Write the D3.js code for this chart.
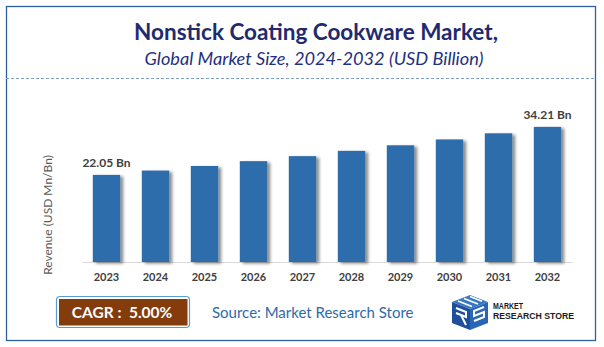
<!DOCTYPE html>
<html>
<head>
<meta charset="utf-8">
<script src="https://cdn.jsdelivr.net/npm/d3@7/dist/d3.min.js"></script>
<style>
  html, body { margin: 0; padding: 0; background: #fff; }
  svg { display: block; }
</style>
</head>
<body>
<svg id="chart" width="604" height="347"></svg>
<script>
// Market size by year (USD billion)
const years = ["2023", "2024", "2025", "2026", "2027", "2028", "2029", "2030", "2031", "2032"];
const revenue = [22.05, 23.15, 24.31, 25.53, 26.80, 28.14, 29.55, 31.03, 32.58, 34.21];
// Only the first and last bars carry a value label
const labelledYears = ["2023", "2032"];

const titleText = "Nonstick Coating Cookware Market,";
const subtitleText = "Global Market Size, 2024-2032 (USD Billion)";
const yAxisTitle = "Revenue (USD Mn/Bn)";
const cagrText = "CAGR :  5.00%";
const sourceText = "Source: Market Research Store";

const data = years.map((y, i) => ({ year: y, value: revenue[i] }));

const svg = d3.select("#chart");

// Bar drop shadow
const defs = svg.append("defs");
const shadow = defs.append("filter").attr("id", "barShadow")
  .attr("x", "-20%").attr("y", "-10%").attr("width", "160%").attr("height", "130%");
shadow.append("feDropShadow")
  .attr("dx", 3).attr("dy", 1.5).attr("stdDeviation", 1.6)
  .attr("flood-color", "#000").attr("flood-opacity", 0.45);

// Outer frame
svg.append("rect")
  .attr("x", 6.5).attr("y", 6.5).attr("width", 589).attr("height", 334)
  .attr("fill", "#fff").attr("stroke", "#2e5f9e").attr("stroke-width", 1.3);

// Titles
svg.append("text")
  .attr("x", 316).attr("y", 40).attr("text-anchor", "middle")
  .attr("font-family", "Lato, 'Open Sans', sans-serif").attr("font-weight", 700)
  .attr("font-size", 22.5).attr("fill", "#1f2b6e")
  .text(titleText);
svg.append("text")
  .attr("x", 314).attr("y", 65).attr("text-anchor", "middle")
  .attr("font-family", "Lato, 'Open Sans', sans-serif").attr("font-style", "italic")
  .attr("font-size", 18.2).attr("fill", "#1f3080")
  .text(subtitleText);

// Dashed divider under the titles
svg.append("line")
  .attr("x1", 6).attr("x2", 596).attr("y1", 78.5).attr("y2", 78.5)
  .attr("stroke", "#7f9cc9").attr("stroke-width", 1).attr("stroke-dasharray", "3,2");

// Scales
const x = d3.scaleBand().domain(years).range([82, 572]).paddingInner(0.44).paddingOuter(0.22);
const y = d3.scaleLinear().domain([0, 40]).range([262, 104]);

// Baseline axis
const xAxis = d3.axisBottom(x).tickSize(0).tickPadding(11);
const gx = svg.append("g").attr("transform", "translate(0,262)").call(xAxis);
gx.select(".domain").attr("stroke", "#d9d9d9").attr("stroke-width", 1.2);
gx.selectAll(".tick text")
  .attr("font-family", "Lato, 'Open Sans', sans-serif").attr("font-weight", 700)
  .attr("font-size", 11).attr("fill", "#404040");

// Bars
svg.append("g").selectAll("rect").data(data).join("rect")
  .attr("x", d => x(d.year))
  .attr("y", d => y(d.value))
  .attr("width", x.bandwidth())
  .attr("height", d => y(0) - y(d.value))
  .attr("fill", "#2e6dab")
  .attr("filter", "url(#barShadow)");

// Value labels
svg.append("g").selectAll("text").data(data.filter(d => labelledYears.includes(d.year))).join("text")
  .attr("x", d => x(d.year) + x.bandwidth() / 2)
  .attr("y", d => y(d.value) - 8)
  .attr("text-anchor", "middle")
  .attr("font-family", "Lato, 'Open Sans', sans-serif").attr("font-weight", 700)
  .attr("font-size", 12).attr("fill", "#404040")
  .text(d => d3.format(".2f")(d.value) + " Bn");

// Y axis title
svg.append("text")
  .attr("transform", "translate(52,215) rotate(-90)")
  .attr("text-anchor", "middle")
  .attr("font-family", "Lato, 'Open Sans', sans-serif")
  .attr("font-size", 12).attr("fill", "#595959")
  .text(yAxisTitle);

// CAGR badge
svg.append("rect")
  .attr("x", 56.5).attr("y", 296.5).attr("width", 133).attr("height", 31).attr("rx", 3.5)
  .attr("fill", "#fff").attr("stroke", "#5b9bd5").attr("stroke-width", 1.2);
svg.append("rect")
  .attr("x", 59).attr("y", 299).attr("width", 128.5).attr("height", 26.5)
  .attr("fill", "#843c0c");
svg.append("text")
  .attr("x", 122).attr("y", 317.5).attr("text-anchor", "middle")
  .attr("font-family", "Lato, 'Open Sans', sans-serif").attr("font-weight", 700)
  .attr("font-size", 15.5).attr("fill", "#fff")
  .style("white-space", "pre")
  .text(cagrText);

// Source note
svg.append("text")
  .attr("x", 212).attr("y", 317.5)
  .attr("font-family", "Lato, 'Open Sans', sans-serif")
  .attr("font-size", 15).attr("fill", "#2e6aa8")
  .text(sourceText);

// Logo: isometric cube mark with brand name
const logo = svg.append("g").attr("transform", "translate(452,295)");
logo.append("path").attr("d", "M18,0 L36,7 L18,14 L0,7 Z").attr("fill", "#3a78c4");
logo.append("path").attr("d", "M0,7 L18,14 L18,35 L0,28 Z").attr("fill", "#1d4f9a");
logo.append("path").attr("d", "M18,14 L36,7 L36,28 L18,35 Z").attr("fill", "#2a66b8");
// White strokes hinting at the letters on the faces
logo.append("path").attr("d", "M6,6 L20,11.5 M12,3.5 L26,9 M18,1.5 L30,6.3")
  .attr("stroke", "#fff").attr("stroke-width", 1.6).attr("fill", "none");
logo.append("path").attr("d", "M4,13 L14,17 L14,22 L4,18 M9,20 L14,30")
  .attr("stroke", "#fff").attr("stroke-width", 2).attr("fill", "none");
logo.append("path").attr("d", "M32,12 L22,16 L22,21 L32,17 L32,22 L22,26")
  .attr("stroke", "#fff").attr("stroke-width", 2).attr("fill", "none");
logo.append("text")
  .attr("x", 41).attr("y", 14)
  .attr("font-family", "'Liberation Sans', Arial, sans-serif").attr("font-weight", 700)
  .attr("font-size", 9.5).attr("fill", "#1a1a1a")
  .attr("textLength", 30).attr("lengthAdjust", "spacingAndGlyphs")
  .text("MARKET");
logo.append("text")
  .attr("x", 41).attr("y", 23.5)
  .attr("font-family", "'Liberation Sans', Arial, sans-serif").attr("font-weight", 700)
  .attr("font-size", 9.5).attr("fill", "#1a1a1a")
  .attr("textLength", 81).attr("lengthAdjust", "spacingAndGlyphs")
  .text("RESEARCH STORE");
</script>
</body>
</html>
